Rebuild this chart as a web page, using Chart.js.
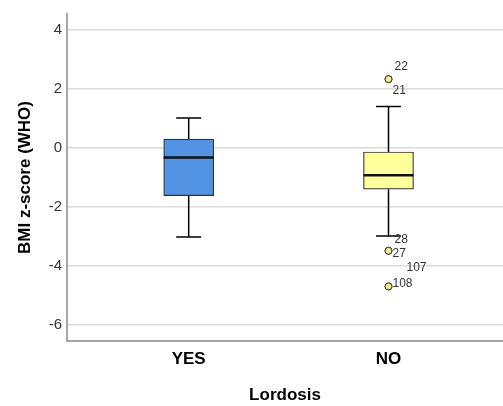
<!DOCTYPE html>
<html>
<head>
<meta charset="utf-8">
<script src="https://cdn.jsdelivr.net/npm/chart.js"></script>
<style>
  body { margin: 0; background: #fff; }
  #wrap { width: 503px; height: 406px; }
</style>
</head>
<body>
<div id="wrap"><canvas id="grafico"></canvas></div>
<script>
const categories = ['YES', 'NO'];
const q1 = [-1.62, -1.40];
const medians = [-0.33, -0.93];
const q3 = [0.30, -0.14];
const whiskerLow = [-3.02, -2.99];
const whiskerHigh = [1.01, 1.40];

const outlierGroup = [1, 1, 1, 1, 1, 1];
const outlierValues = [2.33, 2.33, -3.49, -3.49, -4.70, -4.70];
const outlierIds = ['22', '21', '28', '27', '107', '108'];

const yTicks = [-6, -4, -2, 0, 2, 4];

const boxColors = ['#5393e3', '#ffff9c'];
// where each case number sits next to its dot (px)
const idOffsets = [[6, -12], [4, 12], [6, -11], [4, 3], [18, -19], [4, -3]];

Chart.defaults.font.family = "'Liberation Sans', Arial, sans-serif";

const boxPlugin = {
    id: 'boxPlugin',
    beforeDatasetsDraw(chart) {
        const x = chart.scales.x;
        const y = chart.scales.y;
        const c = chart.ctx;
        c.save();
        c.strokeStyle = '#000';
        c.lineWidth = 1.5;
        categories.forEach((cat, i) => {
            const px = x.getPixelForValue(i);
            const hi = y.getPixelForValue(whiskerHigh[i]);
            const lo = y.getPixelForValue(whiskerLow[i]);
            c.beginPath();
            c.moveTo(px, hi);
            c.lineTo(px, y.getPixelForValue(q3[i]));
            c.moveTo(px, y.getPixelForValue(q1[i]));
            c.lineTo(px, lo);
            c.moveTo(px - 12.5, hi);
            c.lineTo(px + 12.5, hi);
            c.moveTo(px - 12.5, lo);
            c.lineTo(px + 12.5, lo);
            c.stroke();
        });
        c.restore();
    },
    afterDatasetsDraw(chart) {
        const x = chart.scales.x;
        const y = chart.scales.y;
        const c = chart.ctx;
        c.save();
        c.strokeStyle = '#111';
        c.lineWidth = 2.5;
        categories.forEach((cat, i) => {
            const px = x.getPixelForValue(i);
            const py = y.getPixelForValue(medians[i]);
            c.beginPath();
            c.moveTo(px - 25, py);
            c.lineTo(px + 25, py);
            c.stroke();
        });

        c.fillStyle = '#333';
        c.font = "12px 'Liberation Sans', Arial, sans-serif";
        c.textAlign = 'left';
        c.textBaseline = 'middle';
        outlierIds.forEach((id, k) => {
            const px = x.getPixelForValue(outlierGroup[k]);
            const py = y.getPixelForValue(outlierValues[k]);
            c.fillText(id, px + idOffsets[k][0], py + idOffsets[k][1]);
        });
        c.restore();
    }
};

const ctx = document.getElementById('grafico');

const grafico = new Chart(ctx, {
    type: 'bar',
    data: {
        datasets: [{
            type: 'bar',
            data: categories.map((cat, i) => ({ x: i, y: [q1[i], q3[i]] })),
            backgroundColor: boxColors,
            borderColor: '#333',
            borderWidth: 1.2,
            borderSkipped: false,
            barThickness: 50,
            order: 2
        }, {
            type: 'scatter',
            data: outlierValues.map((v, k) => ({ x: outlierGroup[k], y: v })),
            pointRadius: 3.5,
            pointBackgroundColor: '#f3ef86',
            pointBorderColor: '#333',
            pointBorderWidth: 1,
            order: 1
        }]
    },
    options: {
        responsive: true,
        maintainAspectRatio: false,
        animation: false,
        layout: {
            autoPadding: false,
            padding: { top: 12, left: 0, right: 0, bottom: 0 }
        },
        plugins: {
            legend: { display: false },
            tooltip: { enabled: false }
        },
        scales: {
            x: {
                type: 'linear',
                offset: false,
                min: -0.609,
                max: 1.573,
                afterBuildTicks: s => { s.ticks = categories.map((cat, i) => ({ value: i })); },
                afterFit: s => {
                    s.height = 65;
                    s.paddingLeft = 0;
                    s.paddingRight = 0;
                },
                ticks: {
                    callback: v => categories[v],
                    font: { size: 17, weight: 'bold' },
                    color: '#000',
                    padding: 8,
                    maxRotation: 0
                },
                grid: { display: false, drawTicks: false, offset: false },
                border: { color: '#a6a6a6', width: 2 },
                title: {
                    display: true,
                    text: 'Lordosis',
                    font: { size: 17, weight: 'bold' },
                    color: '#000',
                    padding: { top: 0, bottom: 0 }
                }
            },
            y: {
                min: -6.55,
                max: 4.54,
                afterBuildTicks: s => { s.ticks = yTicks.map(v => ({ value: v })); },
                afterFit: s => { s.width = 67; },
                ticks: {
                    font: { size: 15 },
                    color: '#333',
                    padding: 5
                },
                grid: { color: '#dadada', lineWidth: 1.5, drawTicks: false },
                border: { color: '#a6a6a6', width: 2 },
                title: {
                    display: true,
                    text: 'BMI z-score (WHO)',
                    font: { size: 17, weight: 'bold' },
                    color: '#000',
                    padding: { top: 15, bottom: 0 }
                }
            }
        }
    },
    plugins: [boxPlugin]
});
</script>
</body>
</html>
